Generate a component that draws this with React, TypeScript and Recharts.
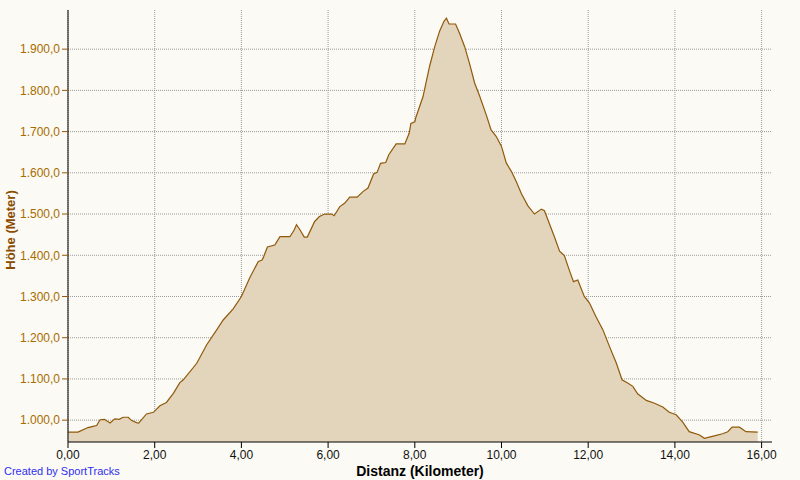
import { AreaChart, Area, XAxis, YAxis, CartesianGrid, Label } from "recharts";

// distance along the track (km)
const distances = [
	0.0, 0.23, 0.46, 0.58, 0.66, 0.74, 0.84, 0.97, 1.08, 1.18, 1.27, 1.39, 1.47, 1.58, 1.63, 1.81,
	1.97, 2.12, 2.27, 2.43, 2.58, 2.66, 2.97, 3.2, 3.43, 3.58, 3.81, 4.0, 4.19, 4.39, 4.47, 4.5,
	4.6, 4.77, 4.89, 5.12, 5.22, 5.27, 5.35, 5.45, 5.52, 5.69, 5.8, 5.92, 6.08, 6.14, 6.27, 6.38,
	6.5, 6.67, 6.81, 6.92, 7.05, 7.13, 7.21, 7.33, 7.4, 7.57, 7.77, 7.87, 7.91, 8.0, 8.02, 8.19,
	8.34, 8.46, 8.57, 8.67, 8.73, 8.79, 8.94, 9.03, 9.15, 9.26, 9.38, 9.5, 9.65, 9.76, 9.88, 10.0,
	10.11, 10.23, 10.34, 10.46, 10.61, 10.76, 10.92, 10.99, 11.07, 11.22, 11.34, 11.45, 11.57,
	11.66, 11.76, 11.91, 12.03, 12.18, 12.34, 12.49, 12.65, 12.78, 12.91, 13.03, 13.14, 13.34,
	13.53, 13.72, 13.87, 14.03, 14.18, 14.33, 14.57, 14.68, 14.91, 15.1, 15.22, 15.32, 15.49,
	15.64, 15.91,
];

// elevation (m)
const elevations = [
	971, 971, 982, 985, 987, 1001, 1002, 993, 1003, 1002, 1007, 1007, 999, 994, 993, 1015,
	1019, 1035, 1043, 1065, 1091, 1098, 1138, 1183, 1219, 1243, 1270, 1300, 1345, 1385, 1388, 1393,
	1420, 1425, 1445, 1445, 1462, 1474, 1462, 1444, 1444, 1482, 1494, 1500, 1500, 1496, 1518, 1526,
	1541, 1541, 1555, 1563, 1597, 1601, 1623, 1625, 1644, 1670, 1670, 1696, 1720, 1724, 1733, 1785,
	1858, 1906, 1943, 1967, 1975, 1961, 1961, 1939, 1906, 1866, 1818, 1785, 1740, 1704, 1688, 1664,
	1624, 1603, 1579, 1549, 1520, 1500, 1512, 1508, 1486, 1445, 1410, 1399, 1362,
	1336, 1340, 1300, 1284, 1251, 1219, 1179, 1138, 1098, 1090, 1082, 1064, 1048,
	1041, 1032, 1019, 1013, 995, 972, 964, 956, 962, 967, 972, 983, 983,
	972, 971,
];

const xTicks = [0, 2, 4, 6, 8, 10, 12, 14, 16];
const yTicks = [1000, 1100, 1200, 1300, 1400, 1500, 1600, 1700, 1800, 1900];

const data = distances.map((km, i) => ({ km, alt: elevations[i] }));

const FONT = '"Liberation Sans", Arial, sans-serif';
const BROWN = "#91590a";

const fmtY = (v: number) => `${Math.floor(v / 1000)}.${String(v % 1000).padStart(3, "0")},0`;
const fmtX = (v: number) => v.toFixed(2).replace(".", ",");

export default function App() {
	return (
		<div
			style={{
				position: "absolute",
				left: 0,
				top: 0,
				width: 800,
				height: 480,
				background: "#fbfaf4",
				fontFamily: FONT,
			}}
		>
			<AreaChart
				width={800}
				height={480}
				data={data}
				margin={{ top: 10, right: 28, bottom: 8, left: 8 }}
			>
				<CartesianGrid
					stroke="#9a9a9a"
					strokeDasharray="1 1"
					horizontalValues={yTicks}
					verticalValues={xTicks}
				/>
				<XAxis
					dataKey="km"
					type="number"
					domain={[0, 16.24]}
					ticks={xTicks}
					tickFormatter={fmtX}
					height={30}
					axisLine={{ stroke: "#000" }}
					tickLine={{ stroke: "#000" }}
					tick={{ fill: "#111", fontSize: 12, fontFamily: FONT }}
				>
					<Label
						content={() => (
							<text
								x={420}
								y={476}
								textAnchor="middle"
								fontFamily={FONT}
								fontSize={14}
								fontWeight="bold"
								fill="#000"
							>
								Distanz (Kilometer)
							</text>
						)}
					/>
				</XAxis>
				<YAxis
					type="number"
					domain={[947, 1995]}
					ticks={yTicks}
					tickFormatter={fmtY}
					width={60}
					axisLine={{ stroke: "#000" }}
					tickLine={{ stroke: BROWN }}
					tick={{ fill: "#a86c00", fontSize: 12, fontFamily: FONT }}
				>
					<Label
						content={() => (
							<text
								x={15}
								y={230}
								transform="rotate(-90 15 230)"
								textAnchor="middle"
								fontFamily={FONT}
								fontSize={13}
								fontWeight="bold"
								fill="#8a4c00"
							>
								Höhe (Meter)
							</text>
						)}
					/>
				</YAxis>
				<Area
					type="linear"
					dataKey="alt"
					stroke={BROWN}
					strokeWidth={1.2}
					fill="#e3d4bc"
					fillOpacity={1}
					isAnimationActive={false}
					dot={false}
					activeDot={false}
				/>
			</AreaChart>
			<div
				style={{
					position: "absolute",
					left: 4,
					top: 465,
					fontSize: 11,
					color: "#2f2ff0",
					fontFamily: FONT,
				}}
			>
				Created by SportTracks
			</div>
		</div>
	);
}
